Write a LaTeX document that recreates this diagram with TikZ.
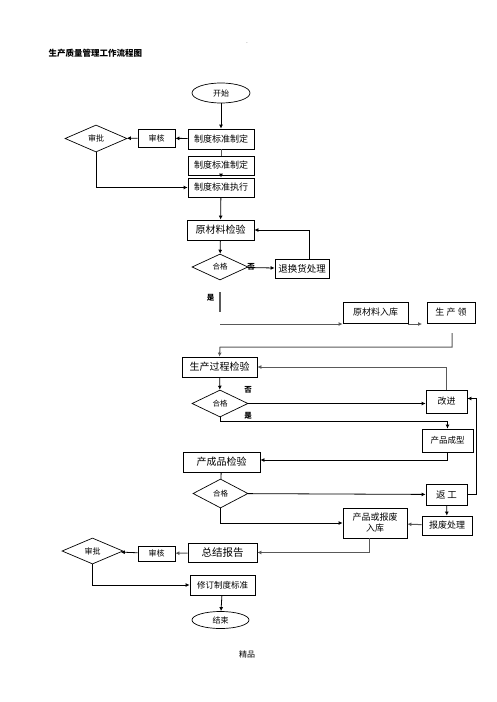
\documentclass[tikz,border=0pt]{standalone}
\usepackage{fontspec}
\setmainfont{Noto Sans CJK SC}
\usetikzlibrary{arrows.meta, calc, shapes.geometric}

\begin{document}
\begin{tikzpicture}[
  x=1pt, y=-1pt,
  line/.style={black, line width=0.8pt},
  gline/.style={black!65, line width=1pt},
  arr/.style={-{Latex[length=4pt, width=4pt]}},
  box/.style={draw, line width=0.8pt, inner sep=0pt, minimum height=20pt, font=\fontsize{9}{10}\selectfont},
  oval/.style={draw, ellipse, line width=0.7pt, inner sep=0pt, font=\fontsize{8}{9}\selectfont},
  check/.style={draw, diamond, aspect=2, line width=0.7pt, inner sep=0pt, font=\fontsize{7.5}{8}\selectfont},
  yesno/.style={font=\fontsize{7.5}{8}\selectfont\bfseries},
]
\useasboundingbox (0,0) rectangle (496,702);

% ===== Title =====
\node[font=\fontsize{8.5}{9}\selectfont\bfseries, anchor=west] (title) at (45,53) {生产质量管理工作流程图};
\node[font=\fontsize{5}{5}\selectfont] (dot) at (247,43) {.};

% ===== Standards =====
\node[oval, minimum width=58pt, minimum height=20pt] (start) at (221,93) {开始};
\node[box, minimum width=66pt] (zd1) at (221,139) {制度标准制定};
\node[box, minimum width=37pt, minimum height=18pt, font=\fontsize{8}{9}\selectfont] (sh1) at (156.5,138) {审核};
\node[check, minimum width=62pt, minimum height=27pt, font=\fontsize{8}{9}\selectfont] (sp1) at (96,138.5) {审批};
\node[box, minimum width=66pt, minimum height=19pt] (zd2) at (221,165.5) {制度标准制定};
\node[box, minimum width=66pt, minimum height=19pt] (zx) at (221,187.5) {制度标准执行};

\draw[line, arr] (start) -- (zd1);
\draw[line, arr] (zd1) -- (sh1);
\draw[line, arr] (sh1) -- (sp1);
\draw[gline] (zd1) -- (zd2);
\draw[line, arr] (zd2) -- (zx);
\draw[line, arr] (sp1.south) |- (zx.west);

% ===== Raw material =====
\node[box, minimum width=67pt, font=\fontsize{10}{11}\selectfont] (ycl) at (220.5,230) {原材料检验};
\node[check, minimum width=56pt, minimum height=26pt] (hg1) at (220,267) {合格};
\node[box, minimum width=54pt, minimum height=19pt, font=\fontsize{9.5}{10}\selectfont] (thh) at (302,268.5) {退换货处理};
\node[yesno] (no1) at (251,267) {否};
\node[yesno, anchor=east] (yes1) at (218,298) {是};
\node[box, minimum width=65pt, minimum height=21pt] (ylrk) at (375.5,312.5) {原材料入库};
\node[box, minimum width=48pt, minimum height=21pt] (scl) at (451,312.5) {生\ 产\ 领};

\coordinate (ysa) at (220,292);
\coordinate (ysb) at (220,312);
\coordinate (yc) at (220,324);
\coordinate (lk) at (422,324);
\coordinate (lq) at (452,333);
\coordinate (lr) at (220,347);

\draw[line, arr] (zx) -- (ycl);
\draw[line, arr] (ycl) -- (hg1);
\draw[line, arr] (hg1) -- (thh);
\draw[line, arr] ([xshift=7pt]thh.north) |- (ycl.east);
\draw[gline, line width=1.2pt] (ysa) -- (ysb);
\draw[gline, arr] (yc) -- (yc -| ylrk.west);
\draw[gline, arr] (ylrk.east |- lk) -- (lk);

% ===== Production process =====
\node[box, minimum width=75pt, font=\fontsize{10}{11}\selectfont] (scgc) at (219.5,367) {生产过程检验};
\node[check, minimum width=56pt, minimum height=27pt] (hg2) at (220,403.5) {合格};
\node[yesno] (no2) at (248,390) {否};
\node[yesno] (yes2) at (248,416) {是};
\node[box, minimum width=41pt, minimum height=23pt] (gj) at (446.5,401.5) {改进};
\node[box, minimum width=51pt, minimum height=23pt, font=\fontsize{8.5}{9}\selectfont] (cpcx) at (447.5,440.5) {产品成型};

\draw[gline, arr] (lq) |- (lr) -- (scgc.north);
\draw[gline, arr] (gj.north) |- (scgc.east);
\draw[line, arr] (scgc) -- (hg2);
\draw[line, arr] (hg2.east) -- (hg2.east -| gj.west);
\draw[line, arr] (hg2.south) -- ++(0,4) -| (cpcx.north);

% ===== Finished product =====
\node[box, minimum width=77pt, font=\fontsize{10}{11}\selectfont] (ccp) at (221.5,462) {产成品检验};
\node[check, minimum width=55pt, minimum height=29pt] (hg3) at (220.5,493.5) {合格};
\node[box, minimum width=41pt, minimum height=21pt, font=\fontsize{9.5}{10}\selectfont] (fg) at (446.5,494.5) {返\,工};
\node[box, minimum width=50pt, minimum height=19pt] (bfcl) at (447,525.5) {报废处理};
\node[box, minimum width=64pt, minimum height=30pt, align=center, font=\fontsize{9}{11}\selectfont] (rk) at (375,523) {产品或报废\\入库};

\draw[line, arr] (cpcx.south) |- ([yshift=2pt]ccp.east);
\draw[line] (ccp) -- (hg3);
\draw[line, arr] (hg3) -- (fg);
\draw[line, arr] (fg.east) -- ++(9,0) |- ([yshift=3pt]gj.east);
\draw[line, arr] (fg) -- (bfcl);
\draw[gline, arr] (bfcl) -- (rk);
\draw[line, arr] (hg3.south) |- (rk.west);

% ===== Report =====
\node[box, minimum width=69pt, minimum height=19pt, font=\fontsize{10.5}{11}\selectfont] (zjbg) at (222.5,552.5) {总结报告};
\node[box, minimum width=37pt, minimum height=15pt, font=\fontsize{8}{9}\selectfont] (sh2) at (156.5,553.5) {审核};
\node[check, minimum width=61pt, minimum height=26pt, font=\fontsize{8}{9}\selectfont] (sp2) at (92.5,551) {审批};
\node[box, minimum width=65pt, font=\fontsize{8.5}{9}\selectfont] (xd) at (222.5,585) {修订制度标准};
\node[oval, minimum width=57pt, minimum height=17pt] (end) at (220.5,620) {结束};
\node[font=\fontsize{8}{9}\selectfont] (jp) at (247,654) {精品};

\draw[gline, arr] ([xshift=-6pt]rk.south) |- (zjbg.east);
\draw[gline, arr] (zjbg) -- (sh2);
\draw[line, arr] (sh2) -- (sp2);
\draw[line, arr] (sp2.south) |- (xd.west);
\draw[line, arr] (xd) -- (end);

\end{tikzpicture}
\end{document}
